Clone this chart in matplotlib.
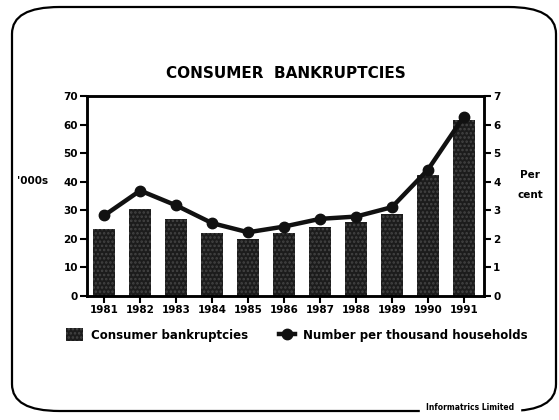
import matplotlib
matplotlib.use("Agg")
import matplotlib.pyplot as plt
from matplotlib.patches import FancyBboxPatch, Rectangle
from matplotlib.lines import Line2D
import numpy as np

years = ["1981", "1982", "1983", "1984", "1985", "1986", "1987", "1988", "1989", "1990", "1991"]
bankruptcies = [23.3, 30.5, 27.0, 22.0, 20.0, 22.0, 24.3, 25.8, 28.8, 42.2, 61.7]
per_thousand = [2.82, 3.69, 3.17, 2.55, 2.23, 2.43, 2.70, 2.78, 3.11, 4.42, 6.28]

plt.rcParams['font.family'] = ['DejaVu Sans']
plt.rcParams['font.weight'] = 'bold'
plt.rcParams['hatch.linewidth'] = 1.2

fig = plt.figure(figsize=(5.59, 4.20), dpi=100)

# rounded border around the whole chart
frame = FancyBboxPatch((12/559, 1-411/420), (556-12)/559, (411-7)/420,
                       boxstyle="round,pad=0,rounding_size=0.085",
                       transform=fig.transFigure, fill=False, lw=1.6,
                       edgecolor='black', mutation_aspect=420/559)
fig.patches.append(frame)
fig.text(470/559, 1-407/420, "Informatrics Limited", fontsize=5.5, fontweight='bold',
         ha='center', va='center', backgroundcolor='white')

ax = fig.add_axes([87/559, 1-296/420, (484-87)/559, (296-96)/420])
x = np.arange(len(years))
ax.bar(x, bankruptcies, width=0.6, color='#1c1c1c', edgecolor='#444444',
       hatch='....', linewidth=0)
ax.set_ylim(0, 70)
ax.set_xlim(-0.48, 10.56)
ax.set_yticks(range(0, 71, 10))
ax.set_xticks(x)
ax.set_xticklabels(years)

ax2 = ax.twinx()
ax2.plot(x, per_thousand, color='#111111', lw=3.2, marker='o', markersize=7.5)
ax2.set_ylim(0, 7)
ax2.set_yticks(range(0, 8))

for a in (ax, ax2):
    for s in a.spines.values():
        s.set_linewidth(1.8)
    a.tick_params(width=1.5, length=5, labelsize=7.5, pad=1.5)

ax.set_title("CONSUMER  BANKRUPTCIES", fontsize=11, fontweight='bold', pad=13)
fig.text(33/559, 1-181/420, "'000s", fontsize=7.5, fontweight='bold', ha='center', va='center')
fig.text(530/559, 1-175/420, "Per", fontsize=7.5, fontweight='bold', ha='center', va='center')
fig.text(530/559, 1-195/420, "cent", fontsize=7.5, fontweight='bold', ha='center', va='center')

handles = [Rectangle((0, 0), 1, 1, facecolor='#1c1c1c', edgecolor='#444444', hatch='....', lw=0),
           Line2D([], [], color='#111111', lw=3.2, marker='o', markersize=7.5)]
fig.legend(handles, ["Consumer bankruptcies", "Number per thousand households"],
           loc='center', bbox_to_anchor=(297/559, 1-335/420), ncol=2, frameon=False,
           prop={'size': 8.5, 'weight': 'bold'}, handlelength=1.4, handleheight=1.3,
           columnspacing=2.6, handletextpad=0.7)

fig.savefig("out.png", dpi=100)
